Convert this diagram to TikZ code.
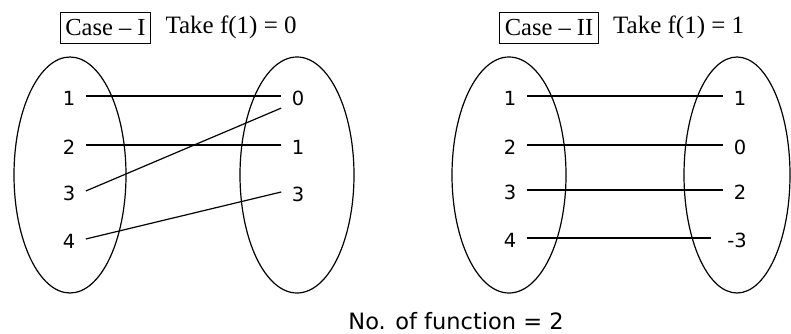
\documentclass[tikz,border=0pt]{standalone}
\usepackage{fontspec}
\setmainfont{Liberation Serif}
\newfontfamily\numfont{DejaVu Sans}
\usetikzlibrary{positioning}

\begin{document}
\begin{tikzpicture}[x=1pt,y=-1pt,line width=1.2pt,elem/.style={font=\numfont\fontsize{19.5}{19.5}\selectfont,text height=19pt,text depth=0pt,inner xsep=10pt,inner ysep=2pt},casebox/.style={draw,line width=.7pt,inner xsep=5pt,minimum height=31pt,font=\fontsize{24.5}{24.5}\selectfont},take/.style={font=\fontsize{25}{25}\selectfont,inner sep=0pt},set/.style={line width=1.2pt}]
\useasboundingbox (0,0) rectangle (791,334);
% case I
\node[casebox] (caseA) at (105.5,27.5) {Case -- I};
\node[take,right=14pt of caseA] (takeA) {Take f(1) = 0};
\draw[set] (70,175) ellipse [x radius=56,y radius=118]; \draw[set] (297,175) ellipse [x radius=57,y radius=118];
\node[elem] (a1) at (69,96) {1}; \node[elem] (a2) at (69,145) {2}; \node[elem] (a3) at (69,191) {3}; \node[elem] (a4) at (69,239) {4};
\node[elem] (b1) at (298,96) {0}; \node[elem] (b2) at (298,145) {1}; \node[elem] (b3) at (298,192) {3};
\draw (a1.east)--(b1.west); \draw (a2.east)--(b2.west); \draw (a3.east)--(b1.south west); \draw (a4.east)--(b3.west);
% case II
\node[casebox] (caseB) at (549,27.5) {Case -- II};
\node[take,right=14pt of caseB] (takeB) {Take f(1) = 1};
\draw[set] (509,175) ellipse [x radius=57,y radius=118]; \draw[set] (737,175) ellipse [x radius=53,y radius=118];
\node[elem] (c1) at (510,96) {1}; \node[elem] (c2) at (510,145) {2}; \node[elem] (c3) at (510,190) {3}; \node[elem] (c4) at (510,238) {4};
\node[elem] (d1) at (740,96) {1}; \node[elem] (d2) at (740,145) {0}; \node[elem] (d3) at (740,190) {2}; \node[elem,inner xsep=16pt] (d4) at (737,238) {-3};
\draw (c1.east)--(d1.west); \draw (c2.east)--(d2.west); \draw (c3.east)--(d3.west); \draw (c4.east)--(d4.west);
\node[font=\numfont\fontsize{22.5}{22.5}\selectfont] (count) at (456,321) {No. of function = 2};
\end{tikzpicture}
\end{document}
